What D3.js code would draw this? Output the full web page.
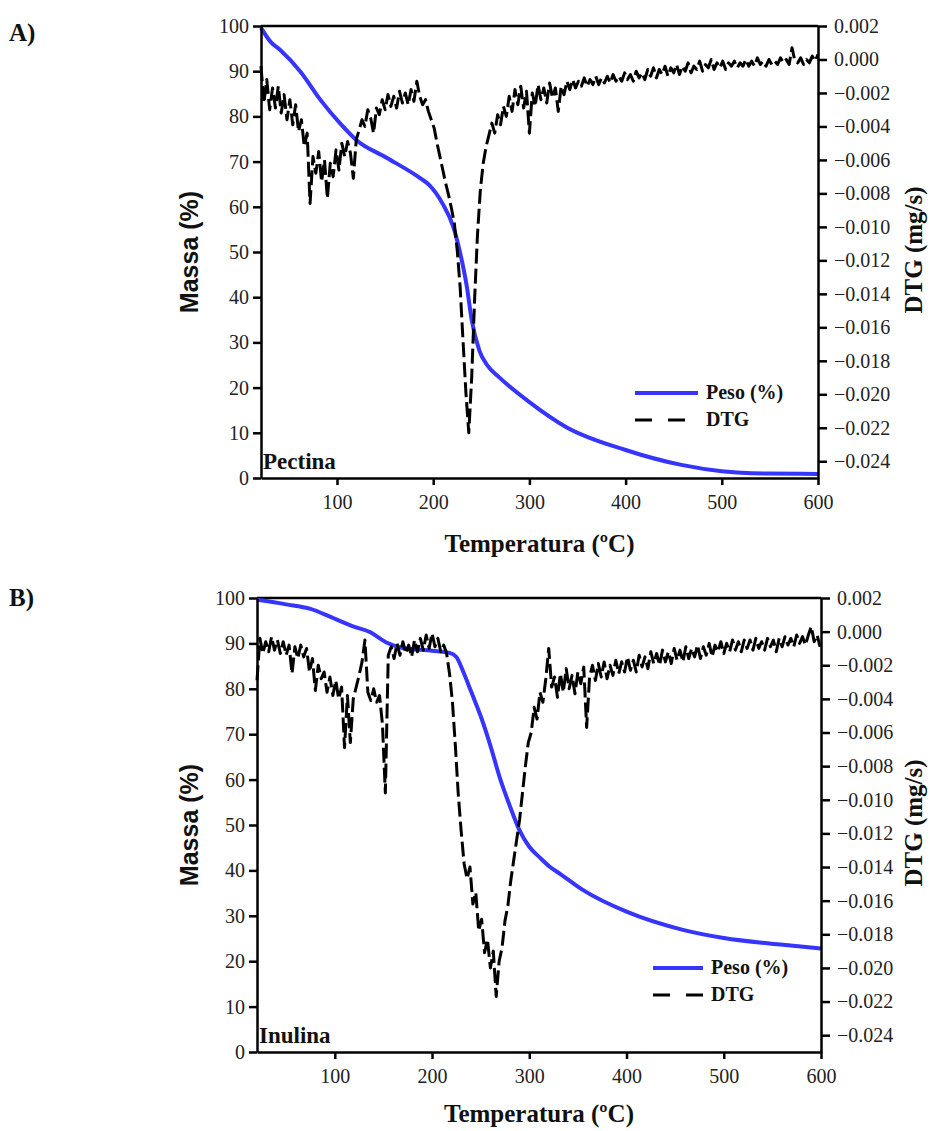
<!DOCTYPE html>
<html>
<head>
<meta charset="utf-8">
<style>
  body { margin: 0; background: #fff; }
  svg { display: block; }
  .axis text { font-family: "Liberation Serif", "Times New Roman", serif; font-size: 20px; fill: #222; }
  .axis path, .axis line { stroke: #000; stroke-width: 2.5; }
  .serif-bold { font-family: "Liberation Serif", "Times New Roman", serif; font-weight: bold; fill: #111; }
  .sans-bold { font-family: "Liberation Sans", Arial, sans-serif; font-weight: bold; fill: #111; }
</style>
</head>
<body>
<svg id="chart" width="930" height="1131"></svg>
<script src="https://d3js.org/d3.v7.min.js"></script>
<script>
// ticks
const tempTicks = [100, 200, 300, 400, 500, 600];
const massTicks = [0, 10, 20, 30, 40, 50, 60, 70, 80, 90, 100];
const dtgTicks = [0.002, 0.000, -0.002, -0.004, -0.006, -0.008, -0.010, -0.012,
  -0.014, -0.016, -0.018, -0.020, -0.022, -0.024];

// A) Pectina - mass curve (T in ºC, mass in %)
const pesoPectinaT = [21, 31, 41, 62, 83, 103, 120, 152, 186, 196, 210, 221, 228, 235, 240, 248, 256, 269, 300, 338, 400, 458, 500, 545, 600];
const pesoPectina = [99.6, 96.5, 94.7, 89.9, 83.6, 78.5, 74.8, 70.8, 66.4, 64.8, 60.6, 55.5, 49.8, 42.3, 35.0, 28.2, 25.0, 22.2, 16.8, 11.3, 6.2, 2.9, 1.5, 1.0, 0.9];

// A) Pectina - DTG (mg/s), sampled every 3 ºC from 21 ºC
const dtgPectinaT = d3.range(21, 601, 3);
const dtgPectina = [
  -0.0004, -0.0026, -0.0012, -0.0030, -0.0017, -0.0029, -0.0016, -0.0032, -0.0021, -0.0036,
  -0.0024, -0.0039, -0.0027, -0.0043, -0.0036, -0.0052, -0.0044, -0.0086, -0.0058, -0.0068,
  -0.0055, -0.0073, -0.0060, -0.0083, -0.0062, -0.0070, -0.0054, -0.0066, -0.0050, -0.0058,
  -0.0049, -0.0056, -0.0071, -0.0048, -0.0042, -0.0036, -0.0040, -0.0030, -0.0035, -0.0044,
  -0.0029, -0.0033, -0.0024, -0.0030, -0.0021, -0.0028, -0.0022, -0.0029, -0.0019, -0.0026,
  -0.0020, -0.0027, -0.0018, -0.0025, -0.0013, -0.0022, -0.0027, -0.0024, -0.0031, -0.0036,
  -0.0041, -0.0050, -0.0058, -0.0066, -0.0074, -0.0081, -0.0089, -0.0098, -0.0114, -0.0136,
  -0.0168, -0.0199, -0.0223, -0.0190, -0.0144, -0.0105, -0.0078, -0.0062, -0.0052, -0.0045,
  -0.0038, -0.0044, -0.0033, -0.0039, -0.0028, -0.0034, -0.0022, -0.0031, -0.0018, -0.0027,
  -0.0016, -0.0029, -0.0019, -0.0044, -0.0020, -0.0028, -0.0015, -0.0024, -0.0017, -0.0026,
  -0.0014, -0.0023, -0.0017, -0.0031, -0.0016, -0.0021, -0.0013, -0.0018, -0.0012, -0.0017,
  -0.0013, -0.0016, -0.0011, -0.0016, -0.0012, -0.0015, -0.0010, -0.0015, -0.0011, -0.0014,
  -0.0010, -0.0014, -0.0009, -0.0013, -0.0010, -0.0013, -0.0008, -0.0012, -0.0009, -0.0013,
  -0.0007, -0.0011, -0.0008, -0.0012, -0.0006, -0.0010, -0.0005, -0.0011, -0.0006, -0.0009,
  -0.0004, -0.0010, -0.0005, -0.0008, -0.0003, -0.0009, -0.0004, -0.0007, -0.0002, -0.0008,
  -0.0004, -0.0006, -0.0001, -0.0007, -0.0003, -0.0005, 0.0000, -0.0006, -0.0002, -0.0005,
  -0.0001, -0.0006, -0.0002, -0.0004, -0.0001, -0.0005, -0.0002, -0.0004, 0.0000, -0.0004,
  -0.0001, -0.0004, 0.0001, -0.0003, -0.0001, -0.0004, 0.0000, -0.0003, -0.0001, -0.0003,
  0.0001, -0.0002, 0.0000, -0.0003, 0.0007, -0.0001, -0.0002, 0.0001, -0.0003, 0.0000,
  -0.0002, 0.0002, -0.0001, 0.0003
];

// B) Inulina - mass curve
const pesoInulinaT = [20, 50, 75, 95, 118, 136, 153, 170, 200, 218, 225, 232, 240, 250, 260, 270, 280, 290, 300, 311, 321, 332, 355, 400, 458, 500, 561, 600];
const pesoInulina = [99.6, 98.6, 97.6, 95.9, 93.8, 92.5, 90.2, 89.0, 88.4, 87.9, 87.0, 83.8, 79.5, 74.0, 67.5, 60.2, 54.2, 48.8, 45.2, 42.8, 40.8, 39.2, 35.7, 30.9, 26.9, 25.1, 23.6, 22.8];

// B) Inulina - DTG (mg/s), sampled every 3 ºC from 20 ºC
const dtgInulinaT = d3.range(20, 600, 3);
const dtgInulina = [
  -0.0029, -0.0004, -0.0013, -0.0006, -0.0012, -0.0003, -0.0011, -0.0005, -0.0013, -0.0006,
  -0.0014, -0.0008, -0.0025, -0.0009, -0.0016, -0.0008, -0.0015, -0.0010, -0.0024, -0.0016,
  -0.0035, -0.0020, -0.0028, -0.0024, -0.0036, -0.0027, -0.0038, -0.0029, -0.0040, -0.0033,
  -0.0069, -0.0038, -0.0066, -0.0040, -0.0033, -0.0026, -0.0018, -0.0005, -0.0036, -0.0041,
  -0.0034, -0.0042, -0.0038, -0.0055, -0.0096, -0.0014, -0.0009, -0.0016, -0.0007, -0.0014,
  -0.0006, -0.0013, -0.0008, -0.0015, -0.0005, -0.0012, -0.0004, -0.0011, -0.0002, -0.0010,
  -0.0001, -0.0009, -0.0004, -0.0012, -0.0008, -0.0013, -0.0025, -0.0042, -0.0068, -0.0097,
  -0.0119, -0.0138, -0.0147, -0.0140, -0.0162, -0.0155, -0.0178, -0.0171, -0.0191, -0.0183,
  -0.0200, -0.0190, -0.0217, -0.0196, -0.0188, -0.0172, -0.0163, -0.0148, -0.0136, -0.0124,
  -0.0112, -0.0096, -0.0080, -0.0066, -0.0060, -0.0045, -0.0052, -0.0036, -0.0042, -0.0028,
  -0.0010, -0.0033, -0.0027, -0.0039, -0.0025, -0.0036, -0.0022, -0.0034, -0.0026, -0.0037,
  -0.0024, -0.0031, -0.0021, -0.0057, -0.0027, -0.0020, -0.0029, -0.0019, -0.0027, -0.0018,
  -0.0028, -0.0020, -0.0026, -0.0017, -0.0025, -0.0018, -0.0024, -0.0015, -0.0023, -0.0017,
  -0.0024, -0.0014, -0.0021, -0.0015, -0.0022, -0.0012, -0.0019, -0.0013, -0.0020, -0.0011,
  -0.0018, -0.0012, -0.0019, -0.0010, -0.0017, -0.0011, -0.0018, -0.0009, -0.0016, -0.0010,
  -0.0015, -0.0008, -0.0016, -0.0009, -0.0014, -0.0007, -0.0015, -0.0008, -0.0012, -0.0006,
  -0.0013, -0.0007, -0.0012, -0.0005, -0.0011, -0.0006, -0.0012, -0.0005, -0.0010, -0.0005,
  -0.0011, -0.0004, -0.0010, -0.0006, -0.0011, -0.0004, -0.0009, -0.0005, -0.0012, -0.0004,
  -0.0009, -0.0003, -0.0008, -0.0004, -0.0009, -0.0002, -0.0007, -0.0003, -0.0008, -0.0002,
  0.0003, -0.0006, -0.0002, -0.0009
];

const panels = [
  {
    tag: "A)", tagY: 41, name: "Pectina",
    left: 261, right: 818, top: 26, bottom: 478, tMin: 21,
    pesoT: pesoPectinaT, peso: pesoPectina, dtgT: dtgPectinaT, dtg: dtgPectina,
    legendX: 635, legendW: 63, legendY: 393, xLabelY: 552
  },
  {
    tag: "B)", tagY: 606, name: "Inulina",
    left: 257, right: 821, top: 598, bottom: 1052, tMin: 20,
    pesoT: pesoInulinaT, peso: pesoInulina, dtgT: dtgInulinaT, dtg: dtgInulina,
    legendX: 653, legendW: 50, legendY: 968, xLabelY: 1122
  }
];

const svg = d3.select('#chart');
const blue = '#3535ff';

panels.forEach(p => {
  const x = d3.scaleLinear().domain([p.tMin, 600]).range([p.left, p.right]);
  const y = d3.scaleLinear().domain([0, 100]).range([p.bottom, p.top]);
  const y2 = d3.scaleLinear().domain([-0.025, 0.002]).range([p.bottom, p.top]);
  const midY = (p.top + p.bottom) / 2;

  const g = svg.append('g');

  // top frame line
  g.append('line')
    .attr('x1', p.left).attr('x2', p.right)
    .attr('y1', p.top).attr('y2', p.top)
    .attr('stroke', '#000').attr('stroke-width', 2.5);

  // mass curve
  const pesoLine = d3.line()
    .x((d, i) => x(p.pesoT[i]))
    .y(d => y(d))
    .curve(d3.curveMonotoneX);
  g.append('path')
    .datum(p.peso)
    .attr('d', pesoLine)
    .attr('fill', 'none')
    .attr('stroke', blue)
    .attr('stroke-width', 4);

  // DTG curve
  const dtgLine = d3.line()
    .x((d, i) => x(p.dtgT[i]))
    .y(d => y2(d));
  g.append('path')
    .datum(p.dtg)
    .attr('d', dtgLine)
    .attr('fill', 'none')
    .attr('stroke', '#000')
    .attr('stroke-width', 3)
    .attr('stroke-linejoin', 'round')
    .attr('stroke-dasharray', '15,5');

  // axes
  g.append('g').attr('class', 'axis')
    .attr('transform', `translate(0,${p.bottom})`)
    .call(d3.axisBottom(x).tickValues(tempTicks).tickSize(7).tickSizeOuter(0).tickPadding(10));
  g.append('g').attr('class', 'axis')
    .attr('transform', `translate(${p.left},0)`)
    .call(d3.axisLeft(y).tickValues(massTicks).tickSize(8).tickSizeOuter(0).tickPadding(4));
  g.append('g').attr('class', 'axis')
    .attr('transform', `translate(${p.right},0)`)
    .call(d3.axisRight(y2).tickValues(dtgTicks).tickFormat(d3.format('.3f')).tickSize(9).tickSizeOuter(0).tickPadding(7));

  // labels
  g.append('text').attr('class', 'sans-bold')
    .attr('transform', `translate(198,${midY}) rotate(-90)`)
    .attr('text-anchor', 'middle')
    .style('font-size', '25px')
    .text('Massa (%)');
  g.append('text').attr('class', 'serif-bold')
    .attr('transform', `translate(922,${midY - 2}) rotate(-90)`)
    .attr('text-anchor', 'middle')
    .style('font-size', '25px')
    .text('DTG (mg/s)');
  g.append('text').attr('class', 'serif-bold')
    .attr('x', (p.left + p.right) / 2).attr('y', p.xLabelY)
    .attr('text-anchor', 'middle')
    .style('font-size', '25px')
    .text('Temperatura (ºC)');
  g.append('text').attr('class', 'serif-bold')
    .attr('x', 9).attr('y', p.tagY)
    .style('font-size', '25px')
    .text(p.tag);
  g.append('text').attr('class', 'serif-bold')
    .attr('x', p.left + 2).attr('y', p.bottom - 9)
    .style('font-size', '23px')
    .text(p.name);

  // legend
  const lg = g.append('g');
  lg.append('line')
    .attr('x1', p.legendX).attr('x2', p.legendX + p.legendW)
    .attr('y1', p.legendY).attr('y2', p.legendY)
    .attr('stroke', blue).attr('stroke-width', 4);
  lg.append('line')
    .attr('x1', p.legendX).attr('x2', p.legendX + p.legendW)
    .attr('y1', p.legendY + 27).attr('y2', p.legendY + 27)
    .attr('stroke', '#000').attr('stroke-width', 3)
    .attr('stroke-dasharray', '17,16');
  lg.append('text').attr('class', 'serif-bold')
    .attr('x', p.legendX + p.legendW + 8).attr('y', p.legendY + 6)
    .style('font-size', '20px')
    .text('Peso (%)');
  lg.append('text').attr('class', 'serif-bold')
    .attr('x', p.legendX + p.legendW + 8).attr('y', p.legendY + 33)
    .style('font-size', '20px')
    .text('DTG');
});
</script>
</body>
</html>
